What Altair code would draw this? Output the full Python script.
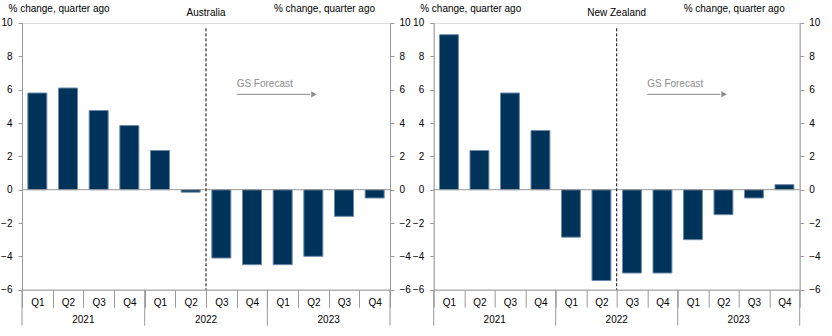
import altair as alt
import pandas as pd

# ---- data -------------------------------------------------------------
quarters = ["Q1", "Q2", "Q3", "Q4"]
years = ["2021", "2022", "2023"]
periods = [f"{q} {y}" for y in years for q in quarters]

au_values = [5.8, 6.1, 4.75, 3.85, 2.35, -0.15, -4.1, -4.5, -4.5, -4.0, -1.6, -0.5]
nz_values = [9.3, 2.35, 5.8, 3.55, -2.85, -5.45, -5.0, -5.0, -3.0, -1.5, -0.5, 0.3]

panel_titles = ["Australia", "New Zealand"]
axis_title = "% change, quarter ago"
y_ticks = [-6, -4, -2, 0, 2, 4, 6, 8, 10]
y_domain = [-6, 10]
forecast_start = "Q3 2022"
forecast_label = "GS Forecast"
forecast_text_at = "Q4 2022"
forecast_arrow_end = "Q2 2023"
forecast_text_y = 6.36
forecast_arrow_y = 5.72
divider_top = 9.68

# ---- style ------------------------------------------------------------
BAR = "#003359"
EDGE = "#6d8bab"
GREY = "#9a9a9a"
TXT_GREY = "#8c8c8c"
FONT = "Liberation Sans"
H = 266.7
WIDTHS = [368, 366]

yscale = alt.Scale(domain=y_domain, nice=False, zero=False)

xaxis = alt.Axis(
    labelExpr="test(/^Q/, datum.value) ? split(datum.value, ' ')[0] : ''",
    tickBand="extent",
    tickSize=17.5,
    tickColor=GREY,
    domainColor=GREY,
    labelAngle=0,
    labelBaseline="middle",
    labelPadding=-5,
    labelFontSize=10,
    labelColor="black",
    title=None,
)


def xenc(field, bp=None):
    kw = dict(
        type="nominal",
        sort=periods,
        scale=alt.Scale(domain=periods, paddingInner=0, paddingOuter=0),
        axis=xaxis,
        title=None,
    )
    if bp is not None:
        kw["bandPosition"] = bp
    return alt.X(field, **kw)


def yaxis(orient, title_x, title_align, label_pad):
    return alt.Axis(
        orient=orient,
        values=y_ticks,
        title=axis_title,
        titleAngle=0,
        titleAlign=title_align,
        titleBaseline="middle",
        titleX=title_x,
        titleY=-14.4,
        titleFontSize=10,
        titleFontWeight="normal",
        titleColor="black",
        tickSize=4,
        tickColor=GREY,
        domainColor=GREY,
        labelPadding=label_pad,
        labelFontSize=10,
        labelColor="black",
        grid=False,
    )


def panel(title, values, width):
    df = pd.DataFrame({"period": periods, "value": values})

    bars = alt.Chart(df).mark_bar(
        width=alt.RelativeBandSize(0.62), fill=BAR, stroke=EDGE, strokeWidth=1
    ).encode(
        x=xenc("period:N"),
        y=alt.Y("value:Q", scale=yscale, axis=yaxis("left", -14, "left", 6)),
    )
    right = alt.Chart(df).mark_bar(opacity=0).encode(
        x=xenc("period:N"),
        y=alt.Y("value:Q", scale=yscale, axis=yaxis("right", -15.5, "right", 5)),
    )
    zero = alt.Chart(pd.DataFrame({"v": [0]})).mark_rule(
        color=GREY, strokeWidth=1
    ).encode(y=alt.Y("v:Q", scale=yscale, axis=None))

    vline = alt.Chart(
        pd.DataFrame({"period": [forecast_start], "top": [divider_top], "bottom": [y_domain[0]]})
    ).mark_rule(color="black", strokeDash=[3, 2], strokeWidth=1).encode(
        x=xenc("period:N", 0),
        y=alt.Y("top:Q", scale=yscale, axis=None),
        y2="bottom:Q",
    )

    sep = alt.Chart(pd.DataFrame({"period": [f"Q1 {y}" for y in years]})).mark_rule(
        color=GREY, strokeWidth=1
    ).encode(x=xenc("period:N", 0), y=alt.value(H), y2=alt.value(H + 36))
    sep_end = alt.Chart(pd.DataFrame({"period": [periods[-1]]})).mark_rule(
        color=GREY, strokeWidth=1
    ).encode(x=xenc("period:N", 1), y=alt.value(H), y2=alt.value(H + 36))

    year_lbl = alt.Chart(
        pd.DataFrame({"period": [f"Q2 {y}" for y in years], "year": years})
    ).mark_text(fontSize=10, baseline="middle", color="black").encode(
        x=xenc("period:N", 1), y=alt.value(H + 30), text="year:N"
    )

    gs = alt.Chart(
        pd.DataFrame({"period": [forecast_text_at], "y": [forecast_text_y], "t": [forecast_label]})
    ).mark_text(align="left", baseline="middle", fontSize=10, color=TXT_GREY).encode(
        x=xenc("period:N", 0), y=alt.Y("y:Q", scale=yscale, axis=None), text="t:N"
    )
    arrow = alt.Chart(
        pd.DataFrame({"period": [forecast_text_at], "end": [forecast_arrow_end], "y": [forecast_arrow_y]})
    ).mark_rule(color=TXT_GREY, strokeWidth=1).encode(
        x=xenc("period:N", 0),
        x2=alt.X2("end:N", bandPosition=0.4),
        y=alt.Y("y:Q", scale=yscale, axis=None),
    )
    head = alt.Chart(
        pd.DataFrame({"period": [forecast_arrow_end], "y": [forecast_arrow_y]})
    ).mark_point(shape="triangle-right", filled=True, size=40, color=TXT_GREY, opacity=1).encode(
        x=xenc("period:N", 0.52), y=alt.Y("y:Q", scale=yscale, axis=None)
    )

    ttl = alt.Chart(pd.DataFrame({"t": [title]})).mark_text(
        fontSize=10, baseline="middle", color="black"
    ).encode(x=alt.value(width / 2), y=alt.value(-10), text="t:N")

    return (
        alt.layer(bars, right, zero, vline, sep, sep_end, year_lbl, gs, arrow, head, ttl)
        .resolve_axis(y="independent")
        .properties(width=width, height=H)
    )


chart = (
    alt.hconcat(
        panel(panel_titles[0], au_values, WIDTHS[0]),
        panel(panel_titles[1], nz_values, WIDTHS[1]),
        spacing=43.7,
        bounds="flush",
    )
    .properties(padding={"left": 0, "top": 3, "right": 5, "bottom": 5})
    .configure_view(stroke=None)
    .configure(font=FONT)
)

chart.save("out.html", embed_options={"renderer": "svg", "actions": False})
